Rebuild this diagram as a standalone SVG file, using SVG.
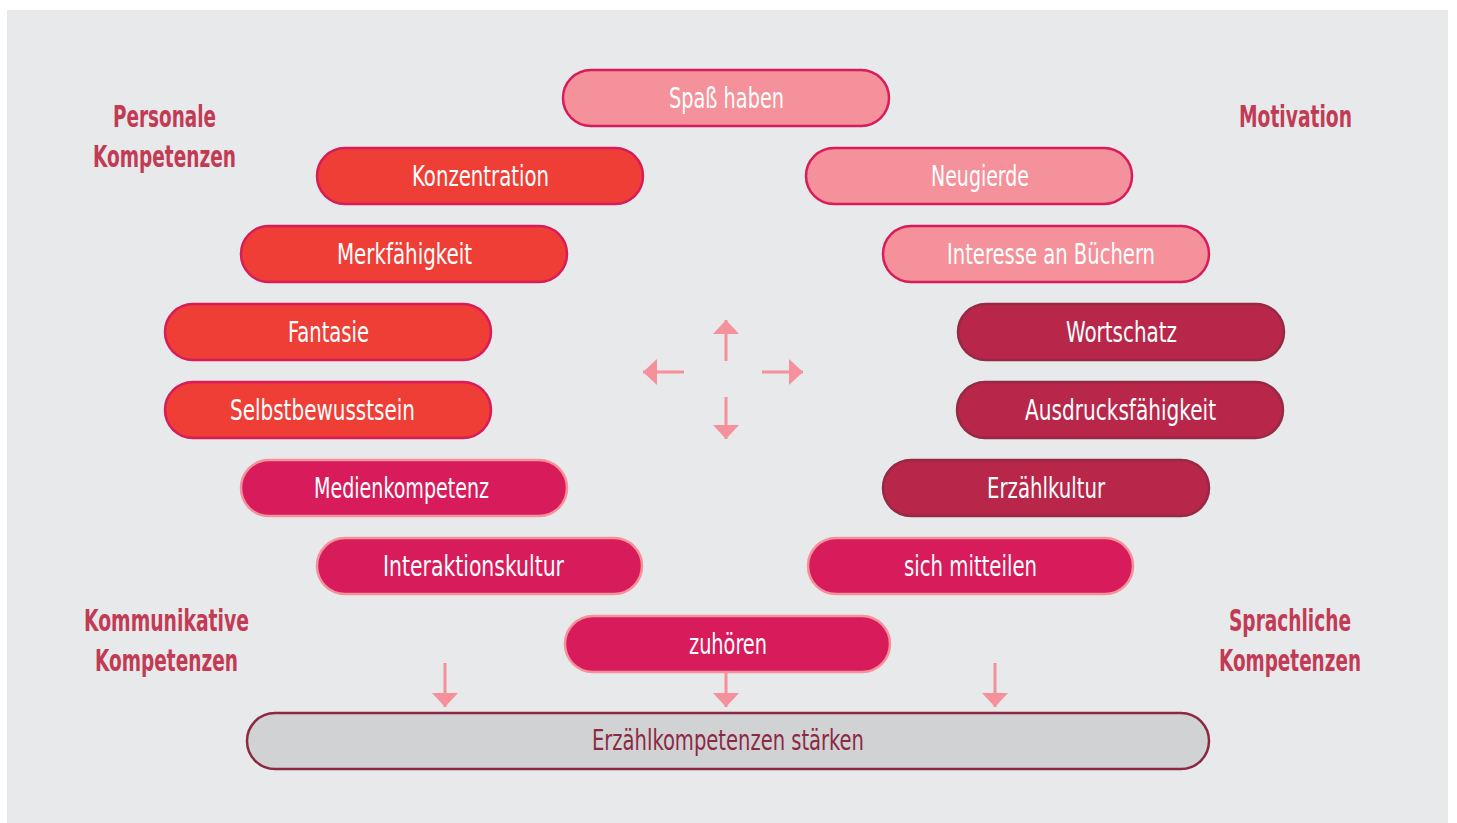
<svg xmlns="http://www.w3.org/2000/svg" width="1457" height="823" viewBox="0 0 1457 823">
<style>
.pill{stroke-width:2.5}
.red{fill:#ef3e36;stroke:#d81b5b}
.pink{fill:#f4919a;stroke:#d81b5b}
.mag{fill:#d81b5b;stroke:#f4919a}
.dark{fill:#b8264a;stroke:#962a45}
.base{fill:#d1d2d4;stroke:#8b2942}
.lbl{font-family:"DejaVu Sans Condensed","DejaVu Sans",sans-serif;font-stretch:condensed;font-size:28px;fill:#ffffff;text-anchor:middle}
.head{font-family:"DejaVu Sans Condensed","DejaVu Sans",sans-serif;font-stretch:condensed;font-weight:bold;font-size:30px;fill:#c23b55;text-anchor:middle}
.arr{stroke:#f4919a;stroke-width:3;fill:none;marker-end:url(#ah)}
</style>
<defs>
<marker id="ah" viewBox="0 0 14 26" refX="14" refY="13" markerWidth="14" markerHeight="26" markerUnits="userSpaceOnUse" orient="auto">
<path d="M0,0 L14,13 L0,26 z" fill="#f4919a"/>
</marker>
</defs>
<rect x="0" y="0" width="1457" height="823" fill="#ffffff"/>
<rect x="7" y="10" width="1441" height="813" fill="#e8e9eb"/>

<g id="heading-personale"><text class="head" x="164.5" y="127" textLength="103" lengthAdjust="spacingAndGlyphs">Personale</text><text class="head" x="164.5" y="167" textLength="143" lengthAdjust="spacingAndGlyphs">Kompetenzen</text></g>
<g id="heading-motivation"><text class="head" x="1295.5" y="127" textLength="113" lengthAdjust="spacingAndGlyphs">Motivation</text></g>
<g id="heading-kommunikative"><text class="head" x="166.5" y="631" textLength="165" lengthAdjust="spacingAndGlyphs">Kommunikative</text><text class="head" x="166.5" y="671" textLength="143" lengthAdjust="spacingAndGlyphs">Kompetenzen</text></g>
<g id="heading-sprachliche"><text class="head" x="1290" y="631" textLength="122" lengthAdjust="spacingAndGlyphs">Sprachliche</text><text class="head" x="1290" y="671" textLength="142" lengthAdjust="spacingAndGlyphs">Kompetenzen</text></g>

<g id="connectors">
<line class="arr" x1="726" y1="361" x2="726" y2="320"/>
<line class="arr" x1="684" y1="372" x2="643" y2="372"/>
<line class="arr" x1="762" y1="372" x2="803" y2="372"/>
<line class="arr" x1="726" y1="397" x2="726" y2="439"/>
<line class="arr" x1="445" y1="663" x2="445" y2="707"/>
<line class="arr" x1="726" y1="663" x2="726" y2="707"/>
<line class="arr" x1="995" y1="663" x2="995" y2="707"/>
</g>

<g id="n-spass"><rect class="pill pink" x="563" y="70" width="326" height="56" rx="28"/><text class="lbl" x="726.5" y="108" textLength="115" lengthAdjust="spacingAndGlyphs">Spaß haben</text></g>
<g id="n-konzentration"><rect class="pill red" x="317" y="148" width="326" height="56" rx="28"/><text class="lbl" x="480.5" y="186" textLength="137" lengthAdjust="spacingAndGlyphs">Konzentration</text></g>
<g id="n-neugierde"><rect class="pill pink" x="806" y="148" width="326" height="56" rx="28"/><text class="lbl" x="980" y="186" textLength="98" lengthAdjust="spacingAndGlyphs">Neugierde</text></g>
<g id="n-merk"><rect class="pill red" x="241" y="226" width="326" height="56" rx="28"/><text class="lbl" x="404.5" y="264" textLength="135" lengthAdjust="spacingAndGlyphs">Merkfähigkeit</text></g>
<g id="n-interesse"><rect class="pill pink" x="883" y="226" width="326" height="56" rx="28"/><text class="lbl" x="1051" y="264" textLength="208" lengthAdjust="spacingAndGlyphs">Interesse an Büchern</text></g>
<g id="n-fantasie"><rect class="pill red" x="165" y="304" width="326" height="56" rx="28"/><text class="lbl" x="328.5" y="342" textLength="81" lengthAdjust="spacingAndGlyphs">Fantasie</text></g>
<g id="n-wortschatz"><rect class="pill dark" x="958" y="304" width="326" height="56" rx="28"/><text class="lbl" x="1121.5" y="342" textLength="111" lengthAdjust="spacingAndGlyphs">Wortschatz</text></g>
<g id="n-selbst"><rect class="pill red" x="165" y="382" width="326" height="56" rx="28"/><text class="lbl" x="322.5" y="420" textLength="185" lengthAdjust="spacingAndGlyphs">Selbstbewusstsein</text></g>
<g id="n-ausdruck"><rect class="pill dark" x="957" y="382" width="326" height="56" rx="28"/><text class="lbl" x="1120.5" y="420" textLength="191" lengthAdjust="spacingAndGlyphs">Ausdrucksfähigkeit</text></g>
<g id="n-medien"><rect class="pill mag" x="241" y="460" width="326" height="56" rx="28"/><text class="lbl" x="401.5" y="498" textLength="175" lengthAdjust="spacingAndGlyphs">Medienkompetenz</text></g>
<g id="n-erzaehlkultur"><rect class="pill dark" x="883" y="460" width="326" height="56" rx="28"/><text class="lbl" x="1046" y="498" textLength="118" lengthAdjust="spacingAndGlyphs">Erzählkultur</text></g>
<g id="n-interaktion"><rect class="pill mag" x="317" y="538" width="325" height="56" rx="28"/><text class="lbl" x="473.5" y="576" textLength="181" lengthAdjust="spacingAndGlyphs">Interaktionskultur</text></g>
<g id="n-mitteilen"><rect class="pill mag" x="808" y="538" width="325" height="56" rx="28"/><text class="lbl" x="970.5" y="576" textLength="133" lengthAdjust="spacingAndGlyphs">sich mitteilen</text></g>
<g id="n-zuhoeren"><rect class="pill mag" x="565" y="616" width="325" height="56" rx="28"/><text class="lbl" x="728" y="654" textLength="78" lengthAdjust="spacingAndGlyphs">zuhören</text></g>
<g id="n-erzaehlkompetenzen"><rect class="pill base" x="247" y="713" width="962" height="56" rx="28"/><text class="lbl" x="728" y="750" textLength="272" lengthAdjust="spacingAndGlyphs" style="fill:#8b2942">Erzählkompetenzen stärken</text></g>
</svg>
